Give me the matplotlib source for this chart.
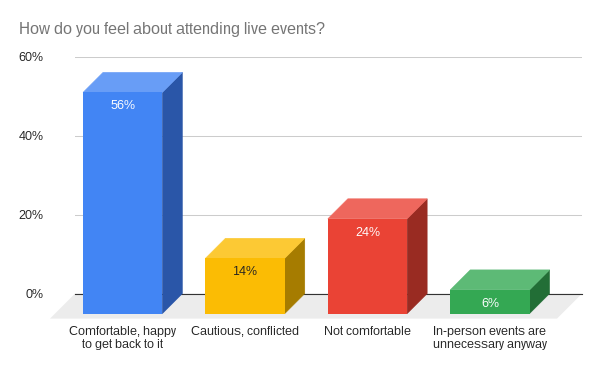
import matplotlib.pyplot as plt

plt.rcParams["font.family"] = ["Liberation Sans", "DejaVu Sans"]
plt.rcParams["text.hinting"] = "no_autohint"
plt.rcParams["text.hinting_factor"] = 1

categories = [
    "Comfortable, happy\nto get back to it",
    "Cautious, conflicted",
    "Not comfortable",
    "In-person events are\nunnecessary anyway",
]
values = [56, 14, 24, 6]
value_labels = ["56%", "14%", "24%", "6%"]
y_ticks = [0, 20, 40, 60]
y_tick_labels = ["0%", "20%", "40%", "60%"]

front_colors = ["#4285f4", "#fbbc04", "#ea4335", "#34a853"]
top_colors = ["#689df6", "#fcc934", "#ee675d", "#5dba76"]
side_colors = ["#2a56a8", "#a67c00", "#992b22", "#226e36"]
label_colors = ["white", "#222222", "white", "white"]

# one category is 122.4 px wide, one percent is 3.95 px tall
BAR_WIDTH = 79.3 / 122.4
DEPTH_X = 20 / 122.4
DEPTH_Y = 20 / 3.95
FLOOR_X = 25 / 122.4
FLOOR_Y = 25 / 3.95


def draw_bar(ax, i, value):
    left = i - BAR_WIDTH / 2
    right = i + BAR_WIDTH / 2
    front_left = left - DEPTH_X
    front_right = right - DEPTH_X
    # side and top go first with a hairline edge so no seam shows under the front
    ax.fill(
        [front_right, right, right, front_right],
        [-DEPTH_Y, 0, value, value - DEPTH_Y],
        facecolor=side_colors[i], edgecolor=side_colors[i], lw=0.4, zorder=3, clip_on=False,
    )
    ax.fill(
        [front_left, front_right, right, left],
        [value - DEPTH_Y, value - DEPTH_Y, value, value],
        facecolor=top_colors[i], edgecolor=top_colors[i], lw=0.4, zorder=3, clip_on=False,
    )
    ax.fill(
        [front_left, front_right, front_right, front_left],
        [-DEPTH_Y, -DEPTH_Y, value - DEPTH_Y, value - DEPTH_Y],
        color=front_colors[i], lw=0, zorder=3, clip_on=False,
    )
    ax.annotate(
        value_labels[i],
        xy=(i - DEPTH_X, value - DEPTH_Y),
        xytext=(0, -9.6),
        textcoords="offset points",
        ha="center",
        va="center",
        fontsize=8.8,
        color=label_colors[i],
        zorder=4,
    )


def plot_live_events():
    fig = plt.figure(figsize=(6, 3.71), dpi=100)
    ax = fig.add_axes([75 / 600, 1 - 293.6 / 371, 507 / 600, 237 / 371])
    ax.set_xlim(-67.7 / 122.4, 439.3 / 122.4)
    ax.set_ylim(0, 60)

    xmin, xmax = ax.get_xlim()
    ax.fill(
        [xmin, xmax, xmax - FLOOR_X, xmin - FLOOR_X],
        [0, 0, -FLOOR_Y, -FLOOR_Y],
        color="#ececec", lw=0, zorder=1, clip_on=False,
    )
    for i, value in enumerate(values):
        draw_bar(ax, i, value)

    for side in ["top", "right", "left"]:
        ax.spines[side].set_visible(False)
    ax.spines["bottom"].set_color("#333333")
    ax.spines["bottom"].set_linewidth(0.8)
    ax.spines["bottom"].set_zorder(2)

    ax.set_yticks(y_ticks, y_tick_labels)
    ax.grid(axis="y", color="#cccccc", lw=0.75)
    ax.set_axisbelow(True)
    ax.tick_params(axis="y", length=0, pad=22.8, labelsize=8.8, labelcolor="#222222")

    ax.set_xticks([i - DEPTH_X for i in range(len(categories))], categories)
    ax.tick_params(axis="x", length=0, pad=23.2, labelsize=8.8, labelcolor="#222222")
    for label in ax.get_xticklabels():
        label.set_linespacing(1.22)

    fig.text(19 / 600, 1 - 29.5 / 371, "How do you feel about attending live events?",
             fontsize=11.85, color="#757575", va="center", ha="left")
    fig.savefig("out.png", dpi=100)


if __name__ == "__main__":
    plot_live_events()
